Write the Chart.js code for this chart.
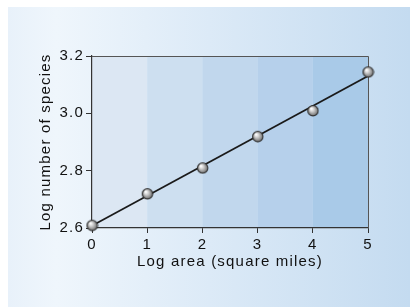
<!DOCTYPE html>
<html>
<head>
<meta charset="utf-8">
<script src="https://cdn.jsdelivr.net/npm/chart.js@4.4.1/dist/chart.umd.min.js"></script>
<style>
  html, body { margin: 0; padding: 0; background: #fff; }
  canvas { display: block; }
</style>
</head>
<body>
<canvas id="chart" width="410" height="308"></canvas>
<script>
// values
const logArea = [0, 1, 2, 3, 4, 5];
const logSpecies = [2.61, 2.72, 2.81, 2.92, 3.01, 3.145];
const fitX = [0, 5];
const fitY = [2.608, 3.13];
const xTicks = [0, 1, 2, 3, 4, 5];
const yTicks = [2.6, 2.8, 3.0, 3.2];
const bandEdges = [0, 1, 2, 3, 4, 5];
const bandColors = ['#dce7f3', '#cddff0', '#c1d7ed', '#b6d0eb', '#a9cae8'];

const textColor = '#111';
const fontFamily = '"Liberation Sans", Arial, Helvetica, sans-serif';

// little shaded ball for the markers
function makeBall(r) {
  const c = document.createElement('canvas');
  const s = r * 2 + 3;
  c.width = s; c.height = s;
  const g = c.getContext('2d');
  const cx = s / 2, cy = s / 2;
  const grad = g.createRadialGradient(cx - r * 0.35, cy - r * 0.4, 0.5, cx, cy, r);
  grad.addColorStop(0, '#ffffff');
  grad.addColorStop(0.35, '#d2d2d2');
  grad.addColorStop(0.8, '#8c8c8c');
  grad.addColorStop(1, '#666');
  g.beginPath();
  g.arc(cx, cy, r, 0, Math.PI * 2);
  g.fillStyle = grad;
  g.fill();
  g.lineWidth = 1.1;
  g.strokeStyle = '#333';
  g.stroke();
  return c;
}
const ball = makeBall(5.2);

const backdrop = {
  id: 'backdrop',
  beforeInit(chart) {
    // the reference type is set with wide tracking
    chart.ctx.letterSpacing = '1.2px';
  },
  beforeDraw(chart) {
    const ctx = chart.ctx;
    const { top, bottom } = chart.chartArea;
    const x = chart.scales.x;
    ctx.letterSpacing = '1.2px';
    ctx.save();
    // outer panel
    const grad = ctx.createLinearGradient(8, 0, 410, 0);
    grad.addColorStop(0, '#e8f1fa');
    grad.addColorStop(0.12, '#eff6fc');
    grad.addColorStop(0.5, '#dceaf7');
    grad.addColorStop(1, '#c4dbf0');
    ctx.fillStyle = grad;
    ctx.fillRect(8, 7, 402, 300);
    // shaded columns
    for (let i = 0; i < bandColors.length; i++) {
      const x0 = x.getPixelForValue(bandEdges[i]);
      const x1 = x.getPixelForValue(bandEdges[i + 1]);
      ctx.fillStyle = bandColors[i];
      ctx.fillRect(x0, top, x1 - x0, bottom - top);
    }
    ctx.restore();
  },
  beforeDatasetsDraw(chart) {
    const ctx = chart.ctx;
    const { left, right, top, bottom } = chart.chartArea;
    ctx.save();
    ctx.strokeStyle = '#555';
    ctx.lineWidth = 1;
    ctx.beginPath();
    ctx.moveTo(left, top + 0.5);
    ctx.lineTo(right + 0.5, top + 0.5);
    ctx.lineTo(right + 0.5, bottom);
    ctx.stroke();
    ctx.restore();
  }
};

new Chart(document.getElementById('chart'), {
  type: 'scatter',
  data: {
    datasets: [
      {
        label: 'Species',
        data: logArea.map((v, i) => ({ x: v, y: logSpecies[i] })),
        pointStyle: ball,
        pointRadius: 6,
        clip: false
      },
      {
        type: 'line',
        label: 'Fit',
        data: fitX.map((v, i) => ({ x: v, y: fitY[i] })),
        borderColor: '#1a1a1a',
        borderWidth: 1.7,
        pointRadius: 0,
        showLine: true,
        fill: false
      }
    ]
  },
  options: {
    responsive: false,
    animation: false,
    devicePixelRatio: 1,
    layout: { padding: { left: 0, top: 56, right: 42, bottom: 0 } },
    plugins: { legend: { display: false }, tooltip: { enabled: false } },
    scales: {
      x: {
        type: 'linear',
        min: 0,
        max: 5,
        afterFit(scale) { scale.height = 80; },
        afterBuildTicks(scale) { scale.ticks = xTicks.map(v => ({ value: v })); },
        grid: { drawOnChartArea: false, tickLength: 5, color: '#333' },
        border: { color: '#333', width: 1.2 },
        ticks: {
          padding: 3,
          color: textColor,
          font: { family: fontFamily, size: 15 },
          maxRotation: 0
        },
        title: {
          display: true,
          text: 'Log area (square miles)',
          color: textColor,
          font: { family: fontFamily, size: 15 },
          padding: { top: 0, bottom: 37 }
        }
      },
      y: {
        type: 'linear',
        min: 2.6,
        max: 3.2,
        afterFit(scale) { scale.width = 92; },
        afterBuildTicks(scale) { scale.ticks = yTicks.map(v => ({ value: v })); },
        grid: { drawOnChartArea: false, tickLength: 6, color: '#333' },
        border: { color: '#333', width: 1.2 },
        ticks: {
          padding: 2,
          color: textColor,
          font: { family: fontFamily, size: 15 },
          callback: v => v.toFixed(1)
        },
        title: {
          display: true,
          text: 'Log number of species',
          color: textColor,
          font: { family: fontFamily, size: 15 },
          padding: { top: 37, bottom: 0 }
        }
      }
    }
  },
  plugins: [backdrop]
});
</script>
</body>
</html>
